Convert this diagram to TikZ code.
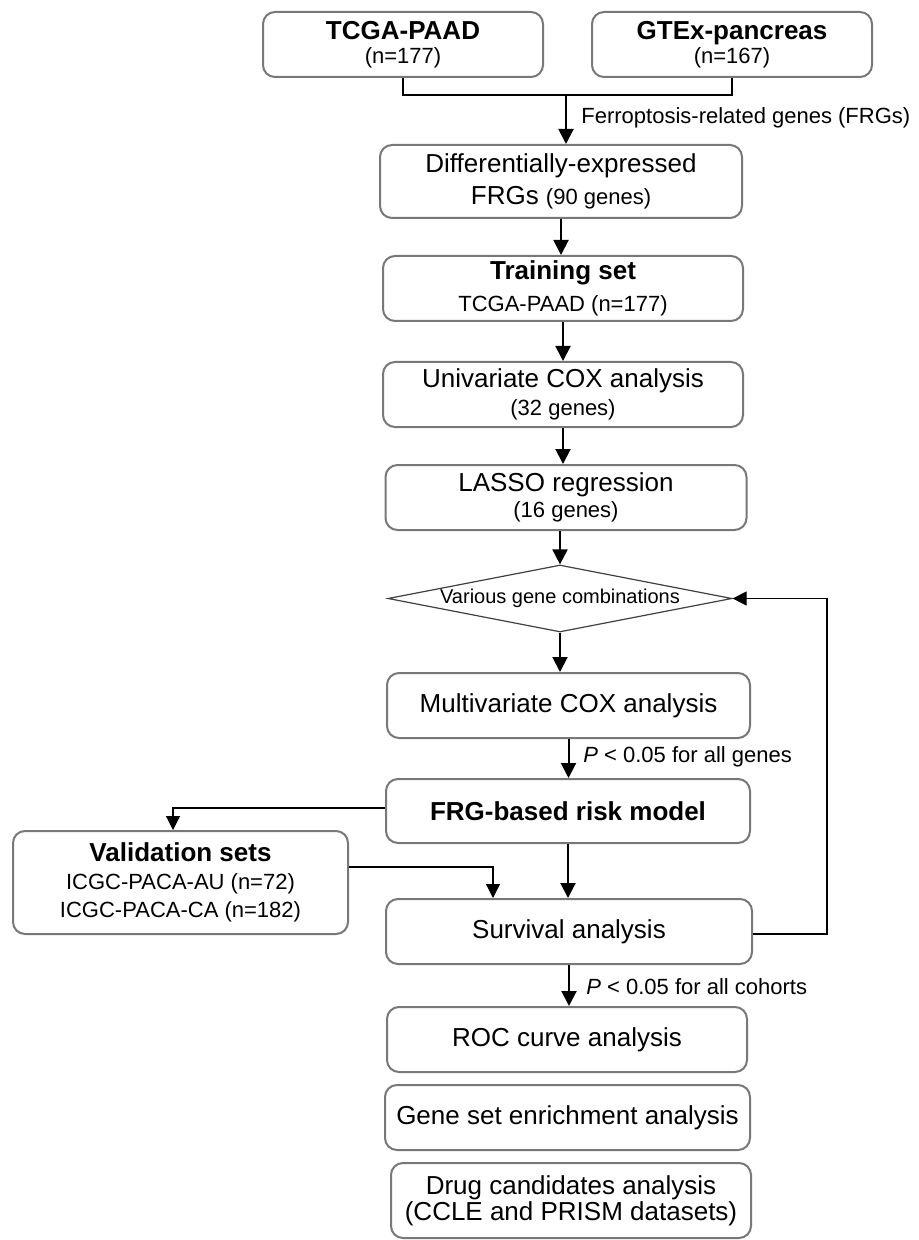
\documentclass[tikz,border=0pt]{standalone}
\usepackage{fontspec}
\setmainfont{Liberation Sans}
\usetikzlibrary{shapes.geometric,arrows.meta,calc}
\definecolor{boxgray}{RGB}{120,120,120}
\begin{document}
\begin{tikzpicture}[x=0.5pt,y=-0.5pt,
  box/.style={draw=boxgray, line width=1pt, rounded corners=6pt, align=center,
              inner sep=0pt, font=\fontsize{13}{14}\selectfont},
  dia/.style={draw=black!75, line width=0.6pt, shape=diamond, aspect=5.13,
              inner sep=0pt, minimum width=172pt, minimum height=33.5pt,
              font=\fontsize{10}{12}\selectfont},
  arr/.style={-{Triangle[length=7.5pt,width=7.5pt]}, line width=1pt},
  thinarr/.style={-{Triangle[length=7pt,width=7pt]}, line width=0.6pt},
  thinline/.style={line width=0.6pt},
  lab/.style={font=\fontsize{11}{13}\selectfont, inner sep=0pt, anchor=west}
]
\fill[white] (0,0) rectangle (918,1240);
\useasboundingbox (0,0) rectangle (918,1240);

% top data sets
\node[box, minimum width=140pt, minimum height=32.5pt, font=\fontsize{13}{12}\selectfont] (tcga) at (403,44.5)
  {\bfseries TCGA-PAAD\\{\fontsize{11}{12}\selectfont (n=177)}};
\node[box, minimum width=140pt, minimum height=32.5pt, font=\fontsize{13}{12}\selectfont] (gtex) at (732,44.5)
  {\bfseries GTEx-pancreas\\{\fontsize{11}{12}\selectfont (n=167)}};

% main column
\node[box, minimum width=181pt, minimum height=36.5pt, font=\fontsize{13}{16}\selectfont] (diff) at (561,181.5)
  {Differentially-expressed\\FRGs {\fontsize{11}{16}\selectfont (90 genes)}};
\node[box, minimum width=180pt, minimum height=32.5pt, font=\fontsize{13}{16}\selectfont] (train) at (563,288.5)
  {\bfseries Training set\\{\fontsize{11}{16}\selectfont TCGA-PAAD (n=177)}};
\node[box, minimum width=180pt, minimum height=32.5pt, font=\fontsize{13}{14}\selectfont] (univ) at (563,394.5)
  {Univariate COX analysis\\{\fontsize{11}{14}\selectfont (32 genes)}};
\node[box, minimum width=180.5pt, minimum height=32.5pt, font=\fontsize{13}{13}\selectfont] (lasso) at (566,497.5)
  {LASSO regression\\{\fontsize{11}{13}\selectfont (16 genes)}};
\node[dia] (comb) at (560,598.5) {Various gene combinations};
\node[box, minimum width=181.5pt, minimum height=32.5pt] (multi) at (568.5,705.5)
  {Multivariate COX analysis};
\node[box, minimum width=182pt, minimum height=32pt] (frg) at (568,811)
  {\bfseries FRG-based risk model};
\node[box, minimum width=167.5pt, minimum height=51.5pt, font=\fontsize{13}{14}\selectfont] (valid) at (180.5,882.5)
  {\bfseries Validation sets\\{\fontsize{11}{14}\selectfont ICGC-PACA-AU (n=72)}\\{\fontsize{11}{14}\selectfont ICGC-PACA-CA (n=182)}};
\node[box, minimum width=183pt, minimum height=32.5pt] (surv) at (569,931.5)
  {Survival analysis};
\node[box, minimum width=180pt, minimum height=32.5pt] (roc) at (567,1039.5)
  {ROC curve analysis};
\node[box, minimum width=182.5pt, minimum height=32.5pt] (gsea) at (567.5,1117.5)
  {Gene set enrichment analysis};
\node[box, minimum width=180pt, minimum height=37.5pt, font=\fontsize{13}{13}\selectfont] (drug) at (571,1200.5)
  {Drug candidates analysis\\(CCLE and PRISM datasets)};

% labels
\node[lab] (l1) at (581,118) {Ferroptosis-related genes (FRGs)};
\node[lab] (l2) at (583,757) {\textit{P} < 0.05 for all genes};
\node[lab] (l3) at (586,987) {\textit{P} < 0.05 for all cohorts};

% connectors
\coordinate (brk) at (566,95);
\draw[thinline] (tcga.south) |- (brk) -| (gtex.south);
\draw[arr] (brk) -- (brk |- diff.north);
\draw[arr] (diff.south) -- (diff.south |- train.north);
\draw[arr] (train.south) -- (train.south |- univ.north);
\draw[arr] (univ.south) -- (univ.south |- lasso.north);
\draw[arr] (lasso.south -| comb.north) -- (comb.north);
\draw[arr] (comb.south) -- (comb.south |- multi.north);
\draw[arr] (multi.south) -- (multi.south |- frg.north);
\draw[arr] (frg.south) -- (frg.south |- surv.north);
\draw[arr] (surv.south) -- (surv.south |- roc.north);

\draw[thinarr] ([yshift=1.5pt]frg.west) -| ([xshift=-3.75pt]valid.north);
\draw[thinarr] ([yshift=7.75pt]valid.east) -| ([xshift=-38pt]surv.north);
\draw[thinarr] ([yshift=-1.25pt]surv.east) -- ++(37pt,0) |- (comb.east);
\end{tikzpicture}
\end{document}
